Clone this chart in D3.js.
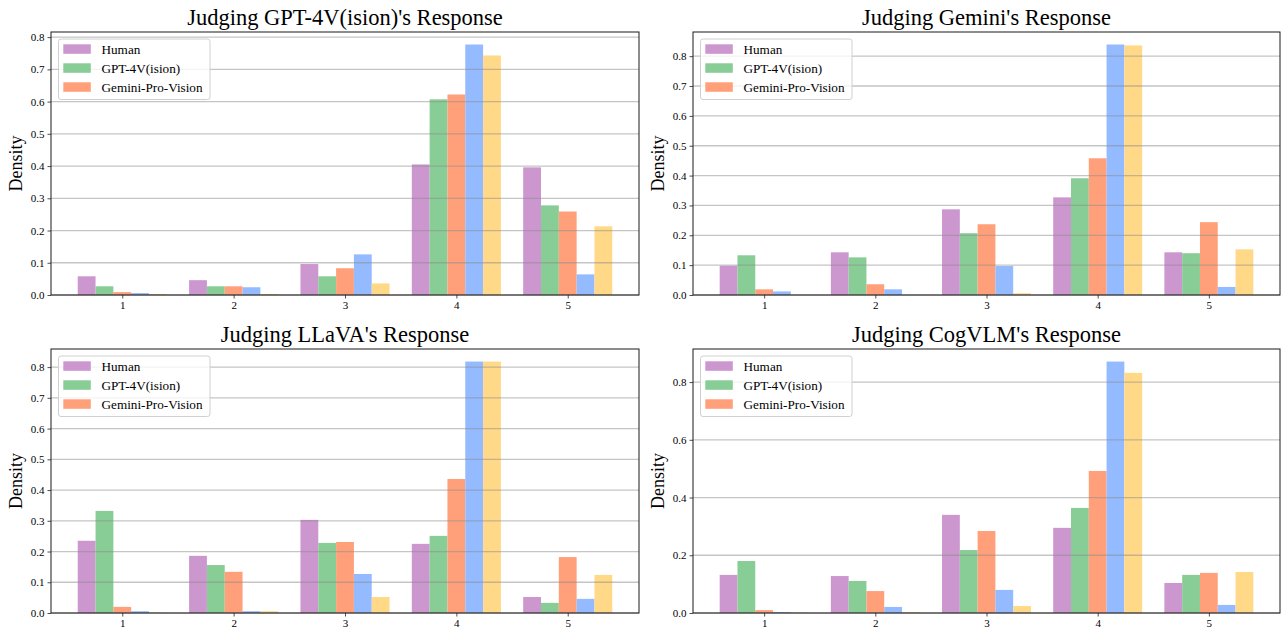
<!DOCTYPE html>
<html>
<head>
<meta charset="utf-8">
<script src="https://cdn.jsdelivr.net/npm/d3@7"></script>
<style>
  html, body { margin: 0; padding: 0; background: #fff; }
  svg { display: block; }
  text { font-family: "Liberation Serif", "Times New Roman", serif; fill: #000; }
</style>
</head>
<body>
<svg id="chart" width="1284" height="631"></svg>
<script>
// ---------- data ----------
const categories = [1, 2, 3, 4, 5];
const seriesNames = ["Human", "GPT-4V(ision)", "Gemini-Pro-Vision", "Series 4", "Series 5"];
const legendCount = 3; // only first three series appear in the legend
const seriesColors = ["#cc96cf", "#88cc96", "#ffa07a", "#94bbff", "#ffd988"];
const titles = ["Judging GPT-4V(ision)'s Response", "Judging Gemini's Response",
                "Judging LLaVA's Response", "Judging CogVLM's Response"];
const yTicksFine = [0, 0.1, 0.2, 0.3, 0.4, 0.5, 0.6, 0.7, 0.8];
const yTicksCoarse = [0, 0.2, 0.4, 0.6, 0.8];

// each row = one series, columns = score 1..5
const judgingGPT4V = [
  [0.058, 0.046, 0.096, 0.405, 0.396],
  [0.027, 0.027, 0.058, 0.607, 0.278],
  [0.009, 0.027, 0.083, 0.622, 0.259],
  [0.006, 0.024, 0.126, 0.777, 0.064],
  [0.003, 0.003, 0.036, 0.743, 0.213]
];
const judgingGemini = [
  [0.098, 0.143, 0.287, 0.327, 0.143],
  [0.133, 0.126, 0.207, 0.391, 0.140],
  [0.019, 0.036, 0.237, 0.458, 0.244],
  [0.012, 0.019, 0.097, 0.839, 0.027],
  [0.000, 0.000, 0.006, 0.836, 0.153]
];
const judgingLLaVA = [
  [0.235, 0.186, 0.303, 0.225, 0.052],
  [0.332, 0.156, 0.228, 0.251, 0.033],
  [0.020, 0.134, 0.231, 0.436, 0.182],
  [0.006, 0.006, 0.127, 0.818, 0.046],
  [0.001, 0.006, 0.052, 0.818, 0.124]
];
const judgingCogVLM = [
  [0.132, 0.128, 0.340, 0.295, 0.104],
  [0.180, 0.111, 0.218, 0.364, 0.132],
  [0.010, 0.076, 0.284, 0.492, 0.139],
  [0.003, 0.021, 0.080, 0.871, 0.028],
  [0.001, 0.003, 0.024, 0.832, 0.142]
];

const panelData = [judgingGPT4V, judgingGemini, judgingLLaVA, judgingCogVLM];
const panelTicks = [yTicksFine, yTicksFine, yTicksFine, yTicksCoarse];

// ---------- layout ----------
const boxes = [
  {x0: 51,  x1: 639,  y0: 32,  y1: 295},
  {x0: 693, x1: 1280, y0: 32,  y1: 295},
  {x0: 51,  x1: 639,  y0: 349, y1: 613},
  {x0: 693, x1: 1280, y0: 349, y1: 613}
];
const barW = 0.16;
const serif = '"Liberation Serif", "Times New Roman", serif';

const svg = d3.select("#chart");

panelData.forEach((data, pi) => {
  const b = boxes[pi];
  const g = svg.append("g");
  const nS = data.length;
  const lo = categories[0] - barW * nS / 2;
  const hi = categories[categories.length - 1] + barW * nS / 2;
  const pad = (hi - lo) * 0.05;
  const x = d3.scaleLinear().domain([lo - pad, hi + pad]).range([b.x0, b.x1]);
  const maxV = d3.max(data.flat());
  const y = d3.scaleLinear().domain([0, maxV * 1.05]).range([b.y1, b.y0]);

  // bars
  data.forEach((vals, si) => {
    g.append("g").selectAll("rect").data(vals).join("rect")
      .attr("x", (d, i) => x(categories[i] + (si - (nS - 1) / 2) * barW - barW / 2))
      .attr("width", x(barW) - x(0))
      .attr("y", d => y(d))
      .attr("height", d => y(0) - y(d))
      .attr("fill", seriesColors[si]);
  });

  // grid (drawn above bars)
  g.append("g").selectAll("line").data(panelTicks[pi]).join("line")
    .attr("x1", b.x0).attr("x2", b.x1)
    .attr("y1", d => y(d)).attr("y2", d => y(d))
    .attr("stroke", "#8c8c8c").attr("stroke-opacity", 0.5).attr("stroke-width", 1.3);

  // axes
  const ya = d3.axisLeft(y).tickValues(panelTicks[pi]).tickFormat(d3.format(".1f")).tickSize(3.5).tickPadding(3);
  const yg = g.append("g").attr("transform", `translate(${b.x0},0)`).call(ya)
    .attr("font-family", serif).attr("font-size", 11);
  yg.select(".domain").remove();
  yg.selectAll("text").attr("font-family", serif).style("font-family", serif).style("font-size", "11px");
  yg.selectAll("line").attr("stroke", "#222").attr("stroke-width", 0.8);

  const xa = d3.axisBottom(x).tickValues(categories).tickFormat(d3.format("d")).tickSize(3.5).tickPadding(3);
  const xg = g.append("g").attr("transform", `translate(0,${b.y1})`).call(xa)
    .attr("font-family", serif).attr("font-size", 11);
  xg.select(".domain").remove();
  xg.selectAll("text").attr("font-family", serif).style("font-family", serif).style("font-size", "11px");
  xg.selectAll("line").attr("stroke", "#222").attr("stroke-width", 0.8);

  // spines
  g.append("rect").attr("x", b.x0).attr("y", b.y0)
    .attr("width", b.x1 - b.x0).attr("height", b.y1 - b.y0)
    .attr("fill", "none").attr("stroke", "#1a1a1a").attr("stroke-width", 1);

  // title
  g.append("text").attr("x", (b.x0 + b.x1) / 2).attr("y", b.y0 - 7)
    .attr("text-anchor", "middle").style("font-family", serif).style("font-size", "22.5px").text(titles[pi]);

  // y label
  g.append("text")
    .attr("transform", `translate(${b.x0 - 29},${(b.y0 + b.y1) / 2}) rotate(-90)`)
    .attr("text-anchor", "middle").style("font-family", serif).style("font-size", "18px").text("Density");

  // legend
  const lg = g.append("g").attr("transform", `translate(${b.x0 + 7.5},${b.y0 + 7})`);
  lg.append("rect").attr("x", 0).attr("y", 0).attr("width", 151.5).attr("height", 60.5)
    .attr("rx", 2.5).attr("fill", "#fff").attr("fill-opacity", 0.8)
    .attr("stroke", "#d0d0d0").attr("stroke-width", 1);
  seriesNames.slice(0, legendCount).forEach((name, i) => {
    lg.append("rect").attr("x", 4.8).attr("y", 5.3 + i * 19).attr("width", 27.5).attr("height", 9.5)
      .attr("fill", seriesColors[i]);
    lg.append("text").attr("x", 43).attr("y", 14.8 + i * 19)
      .style("font-family", serif).style("font-size", "13.2px").text(name);
  });
});
</script>
</body>
</html>
